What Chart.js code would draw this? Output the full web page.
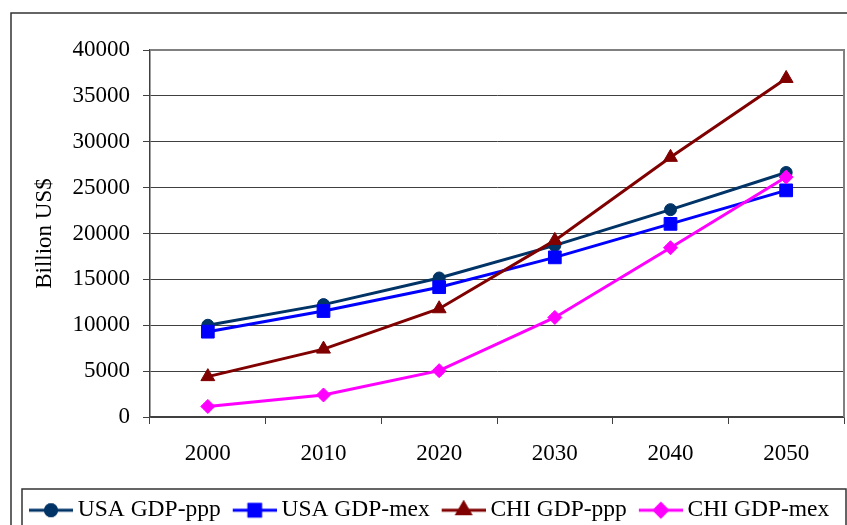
<!DOCTYPE html>
<html>
<head>
<meta charset="utf-8">
<script src="https://cdn.jsdelivr.net/npm/chart.js@4/dist/chart.umd.min.js"></script>
<style>
  html, body { margin: 0; padding: 0; background: #fff; overflow: hidden; width: 847px; height: 525px; }
  canvas { display: block; }
</style>
</head>
<body>
<canvas id="myChart" width="847" height="532"></canvas>
<script>
// Daten
const years = ['2000', '2010', '2020', '2030', '2040', '2050'];
const usaPpp = [10000, 12250, 15150, 18700, 22600, 26650];
const usaMex = [9300, 11550, 14150, 17400, 21050, 24700];
const chiPpp = [4400, 7400, 11800, 19250, 28300, 36900];
const chiMex = [1150, 2400, 5050, 10850, 18450, 26150];
const seriesNames = ['USA GDP-ppp', 'USA GDP-mex', 'CHI GDP-ppp', 'CHI GDP-mex'];
const yTicks = [0, 5000, 10000, 15000, 20000, 25000, 30000, 35000, 40000];

const colors = ['#003366', '#0000ff', '#800000', '#ff00ff'];
const styles = ['circle', 'rect', 'triangle', 'rectRot'];
const radii = [6, 9, 8, 7];
const serif = 'Liberation Serif, Times New Roman, serif';

// kleine Legendenbilder: Linie mit Marker in der Mitte
const legendBox = 37, legendLine = 44;
function makeLegendImage(color, style, r) {
    const c = document.createElement('canvas');
    c.width = 2 * (legendLine - legendBox / 2);
    c.height = 22;
    const g = c.getContext('2d');
    const x0 = c.width - legendLine, y = c.height / 2;
    g.strokeStyle = color;
    g.lineWidth = 3;
    g.beginPath();
    g.moveTo(x0, y);
    g.lineTo(c.width, y);
    g.stroke();
    Chart.helpers.drawPoint(g, {pointStyle: style, radius: r, borderWidth: 1}, x0 + legendLine / 2, y);
    g.fillStyle = color;
    g.fill();
    g.stroke();
    return c;
}

// Rahmen um Diagramm, Zeichenfläche und Legende
const frames = {
    id: 'frames',
    beforeDraw(chart) {
        const c = chart.ctx;
        c.save();
        c.fillStyle = '#fff';
        c.fillRect(0, 0, chart.width, chart.height);
        c.strokeStyle = '#333';
        c.lineWidth = 1.5;
        c.strokeRect(11, 13, chart.width + 20, chart.height + 20);
        c.restore();
    },
    afterDatasetsDraw(chart) {
        const a = chart.chartArea, c = chart.ctx;
        c.save();
        c.strokeStyle = '#808080';
        c.lineWidth = 2;
        c.beginPath();
        c.moveTo(a.left, a.top);
        c.lineTo(a.right, a.top);
        c.lineTo(a.right, a.bottom);
        c.stroke();
        c.restore();
    },
    afterDraw(chart) {
        const l = chart.legend, c = chart.ctx;
        c.save();
        c.strokeStyle = '#333';
        c.lineWidth = 1.5;
        c.strokeRect(l.left + 5, l.top + 2.5, 824, chart.height);
        c.restore();
    }
};

const series = [usaPpp, usaMex, chiPpp, chiMex];
const ctx = document.getElementById('myChart').getContext('2d');
const myChart = new Chart(ctx, {
    type: 'line',
    data: {
        labels: years,
        datasets: series.map((d, i) => ({
            label: seriesNames[i],
            data: d,
            borderColor: colors[i],
            backgroundColor: colors[i],
            borderWidth: 3,
            pointStyle: styles[i],
            pointRadius: radii[i],
            pointBorderWidth: 1,
            pointBackgroundColor: colors[i],
            pointBorderColor: colors[i],
            tension: 0,
            order: 4 - i
        }))
    },
    options: {
        responsive: false,
        animation: false,
        devicePixelRatio: 1,
        layout: { autoPadding: false, padding: { left: 17, right: 3, top: 50, bottom: 0 } },
        plugins: {
            tooltip: { enabled: false },
            legend: {
                position: 'bottom',
                align: 'start',
                labels: {
                    color: '#000',
                    font: { family: serif, size: 23.5 },
                    usePointStyle: true,
                    pointStyleWidth: legendBox,
                    padding: 12,
                    sort: (a, b) => a.datasetIndex - b.datasetIndex,
                    generateLabels(chart) {
                        const items = Chart.defaults.plugins.legend.labels.generateLabels(chart);
                        items.forEach(it => {
                            const i = it.datasetIndex;
                            it.pointStyle = makeLegendImage(colors[i], styles[i], radii[i] * 0.9);
                        });
                        return items;
                    }
                }
            }
        },
        scales: {
            x: {
                type: 'category',
                offset: true,
                afterFit: s => { s.height = 69.5; s.paddingLeft = 0; s.paddingRight = 0; },
                grid: { offset: true, drawOnChartArea: false, color: '#404040', tickLength: 7, tickWidth: 1 },
                border: { color: '#404040', width: 1.5 },
                ticks: { color: '#000', font: { family: serif, size: 23 }, padding: 16 }
            },
            y: {
                min: 0,
                max: 40000,
                afterFit: s => { s.width = 133; },
                afterBuildTicks: s => { s.ticks = yTicks.map(v => ({ value: v })); },
                grid: { color: '#404040', tickLength: 7, lineWidth: 1 },
                border: { color: '#404040', width: 1.5 },
                ticks: { color: '#000', font: { family: serif, size: 23 }, padding: 13, callback: v => String(v) },
                title: {
                    display: true,
                    text: 'Billion US$',
                    color: '#000',
                    font: { family: serif, size: 23 },
                    padding: { top: 14, bottom: 0 }
                }
            }
        }
    },
    plugins: [frames]
});
</script>
</body>
</html>
